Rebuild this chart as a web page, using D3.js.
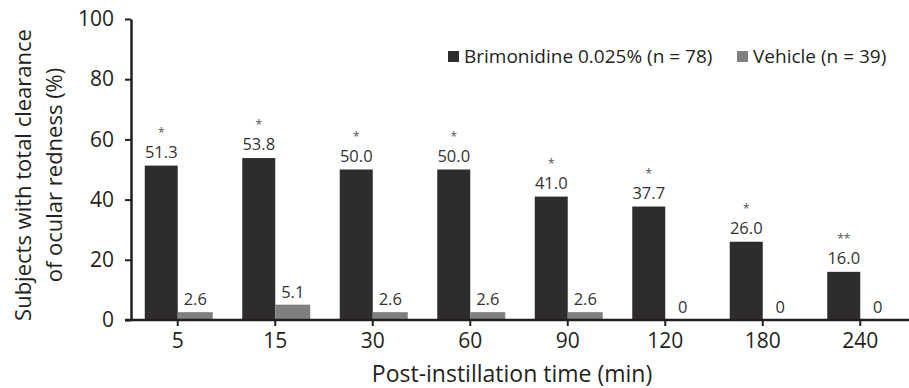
<!DOCTYPE html>
<html>
<head>
<meta charset="utf-8">
<script src="https://cdn.jsdelivr.net/npm/d3@7"></script>
<style>
  body { margin: 0; background: #fff; }
  text { font-family: "Open Sans", "Noto Sans", sans-serif; }
</style>
</head>
<body>
<script>
  var times = ["5", "15", "30", "60", "90", "120", "180", "240"];
  var brimonidine = [51.3, 53.8, 50.0, 50.0, 41.0, 37.7, 26.0, 16.0];
  var vehicle = [2.6, 5.1, 2.6, 2.6, 2.6, 0, 0, 0];
  var stars = ["*", "*", "*", "*", "*", "*", "*", "**"];
  var yTicks = [0, 20, 40, 60, 80, 100];
  var seriesNames = ["Brimonidine 0.025% (n = 78)", "Vehicle (n = 39)"];

  var W = 909, H = 388;
  var mLeft = 131, mRight = 909, mTop = 19, mBottom = 320;

  var svg = d3.select("body").append("svg")
      .attr("width", W)
      .attr("height", H);

  var x = d3.scaleBand().domain(times).range([mLeft - 2, mRight]).padding(0);
  var y = d3.scaleLinear().domain([0, 100]).range([mBottom, mTop]);
  var barW = 33;

  function cx(d) { return x(d) + x.bandwidth() / 2; }

  // bars
  svg.selectAll(".b1").data(times).enter().append("rect")
    .attr("x", function(d) { return cx(d) - barW; })
    .attr("y", function(d, i) { return y(brimonidine[i]); })
    .attr("width", barW)
    .attr("height", function(d, i) { return mBottom - y(brimonidine[i]); })
    .attr("fill", "#2f2c2d");

  svg.selectAll(".b2").data(times).enter().append("rect")
    .attr("x", function(d) { return cx(d); })
    .attr("y", function(d, i) { return y(vehicle[i]); })
    .attr("width", barW + 2)
    .attr("height", function(d, i) { return mBottom - y(vehicle[i]); })
    .attr("fill", "#7f7f81");

  // value labels, with significance stars above
  svg.selectAll(".st").data(times).enter().append("text")
    .attr("x", function(d) { return cx(d) - barW / 2; })
    .attr("y", function(d, i) { return y(brimonidine[i]) - 29; })
    .attr("text-anchor", "middle")
    .attr("font-size", 12)
    .attr("fill", "#555")
    .text(function(d, i) { return stars[i]; });

  svg.selectAll(".l1").data(times).enter().append("text")
    .attr("x", function(d) { return cx(d) - barW / 2; })
    .attr("y", function(d, i) { return y(brimonidine[i]) - 8; })
    .attr("text-anchor", "middle")
    .attr("font-size", 16.5)
    .attr("fill", "#333")
    .text(function(d, i) { return brimonidine[i].toFixed(1); });

  svg.selectAll(".l2").data(times).enter().append("text")
    .attr("x", function(d) { return cx(d) + barW / 2 + 1; })
    .attr("y", function(d, i) { return y(vehicle[i]) - 7; })
    .attr("text-anchor", "middle")
    .attr("font-size", 16.5)
    .attr("fill", "#333")
    .text(function(d, i) { return vehicle[i] === 0 ? "0" : vehicle[i].toFixed(1); });

  // axes
  var xAxis = svg.append("g")
    .attr("transform", "translate(0," + mBottom + ")")
    .call(d3.axisBottom(x).tickSize(6).tickSizeOuter(0));
  xAxis.select(".domain").attr("stroke", "#231f20").attr("stroke-width", 2.5)
    .attr("d", "M" + (mLeft - 6) + ",0H" + mRight);
  xAxis.selectAll(".tick line").attr("stroke", "#231f20").attr("stroke-width", 2);
  xAxis.selectAll(".tick text").attr("font-size", 21).attr("fill", "#231f20")
    .attr("y", 28).attr("dy", 0);

  var yAxis = svg.append("g")
    .attr("transform", "translate(" + mLeft + ",0)")
    .call(d3.axisLeft(y).tickValues(yTicks).tickSize(6).tickSizeOuter(0));
  yAxis.select(".domain").attr("stroke", "#231f20").attr("stroke-width", 2.5);
  yAxis.selectAll(".tick line").attr("stroke", "#231f20").attr("stroke-width", 2);
  yAxis.selectAll(".tick text").attr("font-size", 21).attr("fill", "#231f20").attr("x", -17);

  // axis titles
  svg.append("text")
    .attr("x", 512)
    .attr("y", 382)
    .attr("text-anchor", "middle")
    .attr("font-size", 23)
    .attr("fill", "#231f20")
    .text("Post-instillation time (min)");

  var yt = svg.append("text")
    .attr("transform", "translate(31,175) rotate(-90)")
    .attr("text-anchor", "middle")
    .attr("font-size", 22)
    .attr("fill", "#231f20");
  yt.append("tspan").attr("x", 0).attr("y", 0).text("Subjects with total clearance");
  yt.append("tspan").attr("x", 0).attr("y", 31).text("of ocular redness (%)");

  // legend
  var legendX = [448, 737];
  var legendColors = ["#2f2c2d", "#7f7f81"];
  var lg = svg.selectAll(".lg").data(seriesNames).enter().append("g")
    .attr("transform", function(d, i) { return "translate(" + legendX[i] + ",49)"; });
  lg.append("rect").attr("width", 11).attr("height", 11).attr("y", 2)
    .attr("fill", function(d, i) { return legendColors[i]; });
  lg.append("text").attr("x", 16).attr("y", 14).attr("font-size", 19).attr("fill", "#231f20")
    .text(function(d) { return d; });
</script>
</body>
</html>
